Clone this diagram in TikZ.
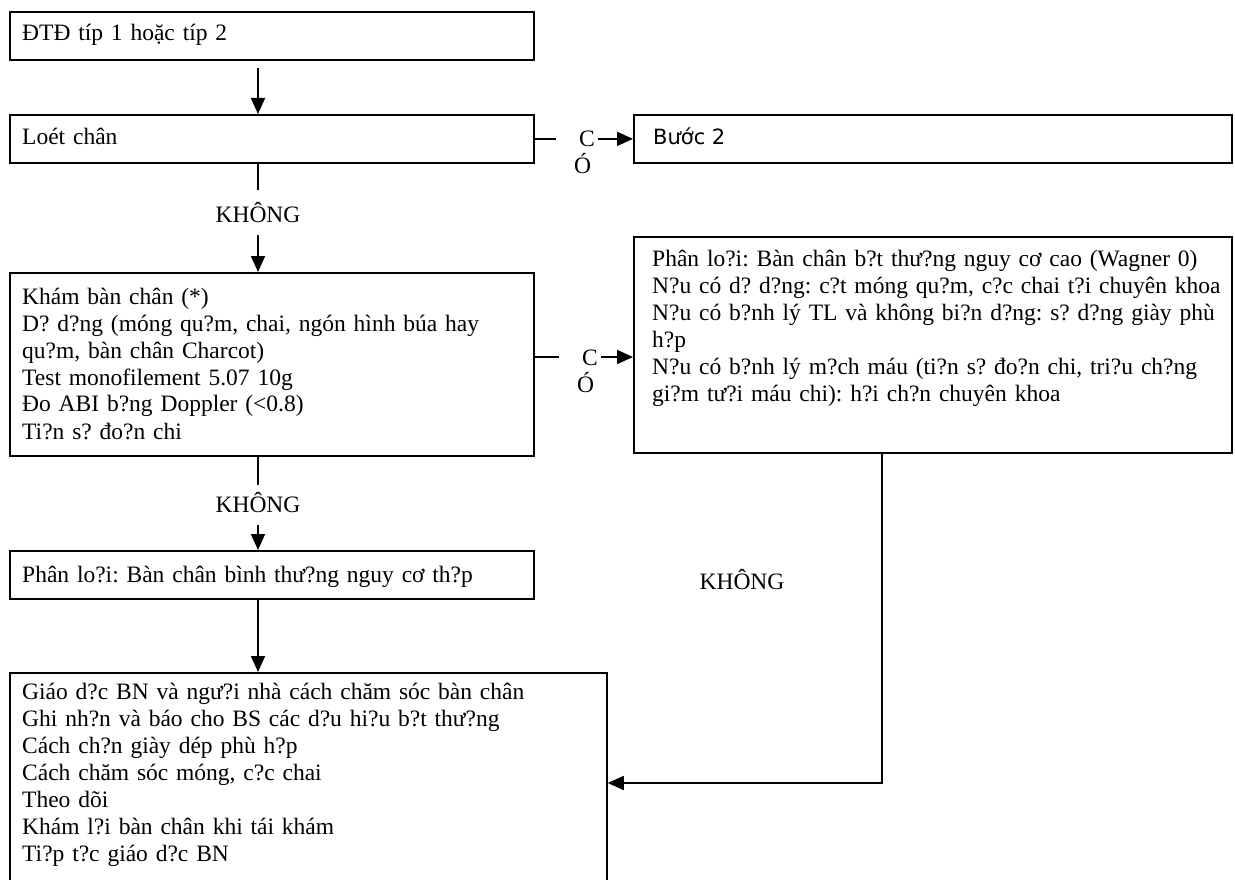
\documentclass[tikz,border=0pt]{standalone}
\usepackage{fontspec}
\setmainfont{Liberation Serif}
\newfontfamily\stepfont{DejaVu Sans}
\usetikzlibrary{arrows.meta}
\newcommand{\bodysize}{\fontsize{23.5}{27}\selectfont\frenchspacing}

\tikzset{
  box/.style={draw, line width=1.8pt, anchor=north west, inner sep=0pt},
  txt/.style={anchor=base west, inner sep=0pt, font=\bodysize, text width=640pt, align=left},
  lbl/.style={inner sep=0pt, font=\bodysize},
  link/.style={line width=1.8pt},
  arr/.style={link, -{Triangle[length=16pt,width=14pt]}}
}

\begin{document}
\begin{tikzpicture}[x=1pt,y=-1pt]
\useasboundingbox (0,0) rectangle (1235,880);

% vertical spine of the main column, drop line on the right, level of the second branch
\coordinate (spine) at (258,0);
\coordinate (drop) at (882,0);
\coordinate (branch) at (0,357);

% boxes
\node[box, minimum width=524pt, minimum height=48pt]  (diab)  at (9,11)    {};
\node[box, minimum width=524pt, minimum height=48pt]  (ulcer) at (9,114)   {};
\node[box, minimum width=598pt, minimum height=48pt]  (step2) at (633,114) {};
\node[box, minimum width=524pt, minimum height=183pt] (exam)  at (9,272)   {};
\node[box, minimum width=598pt, minimum height=216pt] (high)  at (633,236) {};
\node[box, minimum width=524pt, minimum height=48pt]  (low)   at (9,550)   {};
\node[box, minimum width=597pt, minimum height=222pt] (edu)   at (9,672)   {};

% box texts
\node[txt] (diab-t)  at (22,41)  {ĐTĐ típ 1 hoặc típ 2};
\node[txt] (ulcer-t) at (22,145) {Loét chân};
\node[anchor=base west, inner sep=0pt, font={\stepfont\fontsize{21}{24}\selectfont}] (step2-t) at (653,145) {Bước 2};
\node[txt] (exam-t) at (22,304) {Khám bàn chân (*)\\
D? d?ng (móng qu?m, chai, ngón hình búa hay\\
qu?m, bàn chân Charcot)\\
Test monofilement 5.07 10g\\
Đo ABI b?ng Doppler (<0.8)\\
Ti?n s? đo?n chi};
\node[txt] (high-t) at (652,266) {Phân lo?i: Bàn chân b?t thư?ng nguy cơ cao (Wagner 0)\\
N?u có d? d?ng: c?t móng qu?m, c?c chai t?i chuyên khoa\\
N?u có b?nh lý TL và không bi?n d?ng: s? d?ng giày phù\\
h?p\\
N?u có b?nh lý m?ch máu (ti?n s? đo?n chi, tri?u ch?ng\\
gi?m tư?i máu chi): h?i ch?n chuyên khoa};
\node[txt] (low-t) at (22,582) {Phân lo?i: Bàn chân bình thư?ng nguy cơ th?p};
\node[txt] (edu-t) at (22,699) {Giáo d?c BN và ngư?i nhà cách chăm sóc bàn chân\\
Ghi nh?n và báo cho BS các d?u hi?u b?t thư?ng\\
Cách ch?n giày dép phù h?p\\
Cách chăm sóc móng, c?c chai\\
Theo dõi\\
Khám l?i bàn chân khi tái khám\\
Ti?p t?c giáo d?c BN};

% branch labels
\node[lbl] (no1) at (258,213) {KHÔNG};
\node[lbl] (no2) at (258,503) {KHÔNG};
\node[lbl] (no3) at (742,580) {KHÔNG};
\node[lbl, align=left, anchor=north west] (yes1) at (574,131) {\hspace{5pt}C\\Ó};
\node[lbl, align=left, anchor=north west] (yes2) at (577,350) {\hspace{5pt}C\\Ó};

% connectors
\draw[arr] ([yshift=-7pt]spine |- diab.south) -- (spine |- ulcer.north);
\draw[link] (spine |- ulcer.south) -- ++(0,26);
\draw[arr] ([yshift=-12pt]spine |- no1.south) -- (spine |- exam.north);
\draw[link] (spine |- exam.south) -- ++(0,28);
\draw[arr] ([yshift=-12pt]spine |- no2.south) -- (spine |- low.north);
\draw[arr] (spine |- low.south) -- (spine |- edu.north);

\draw[link] (ulcer.east) -- ++(21,0);
\draw[arr] ([xshift=3pt]yes1.east |- step2.west) -- (step2.west);
\draw[link] (exam.east |- branch) -- ++(24,0);
\draw[arr] ([xshift=3pt]yes2.east |- branch) -- (high.west |- branch);

\draw[arr] (drop |- high.south) |- (edu.east |- 0,783);
\end{tikzpicture}
\end{document}
